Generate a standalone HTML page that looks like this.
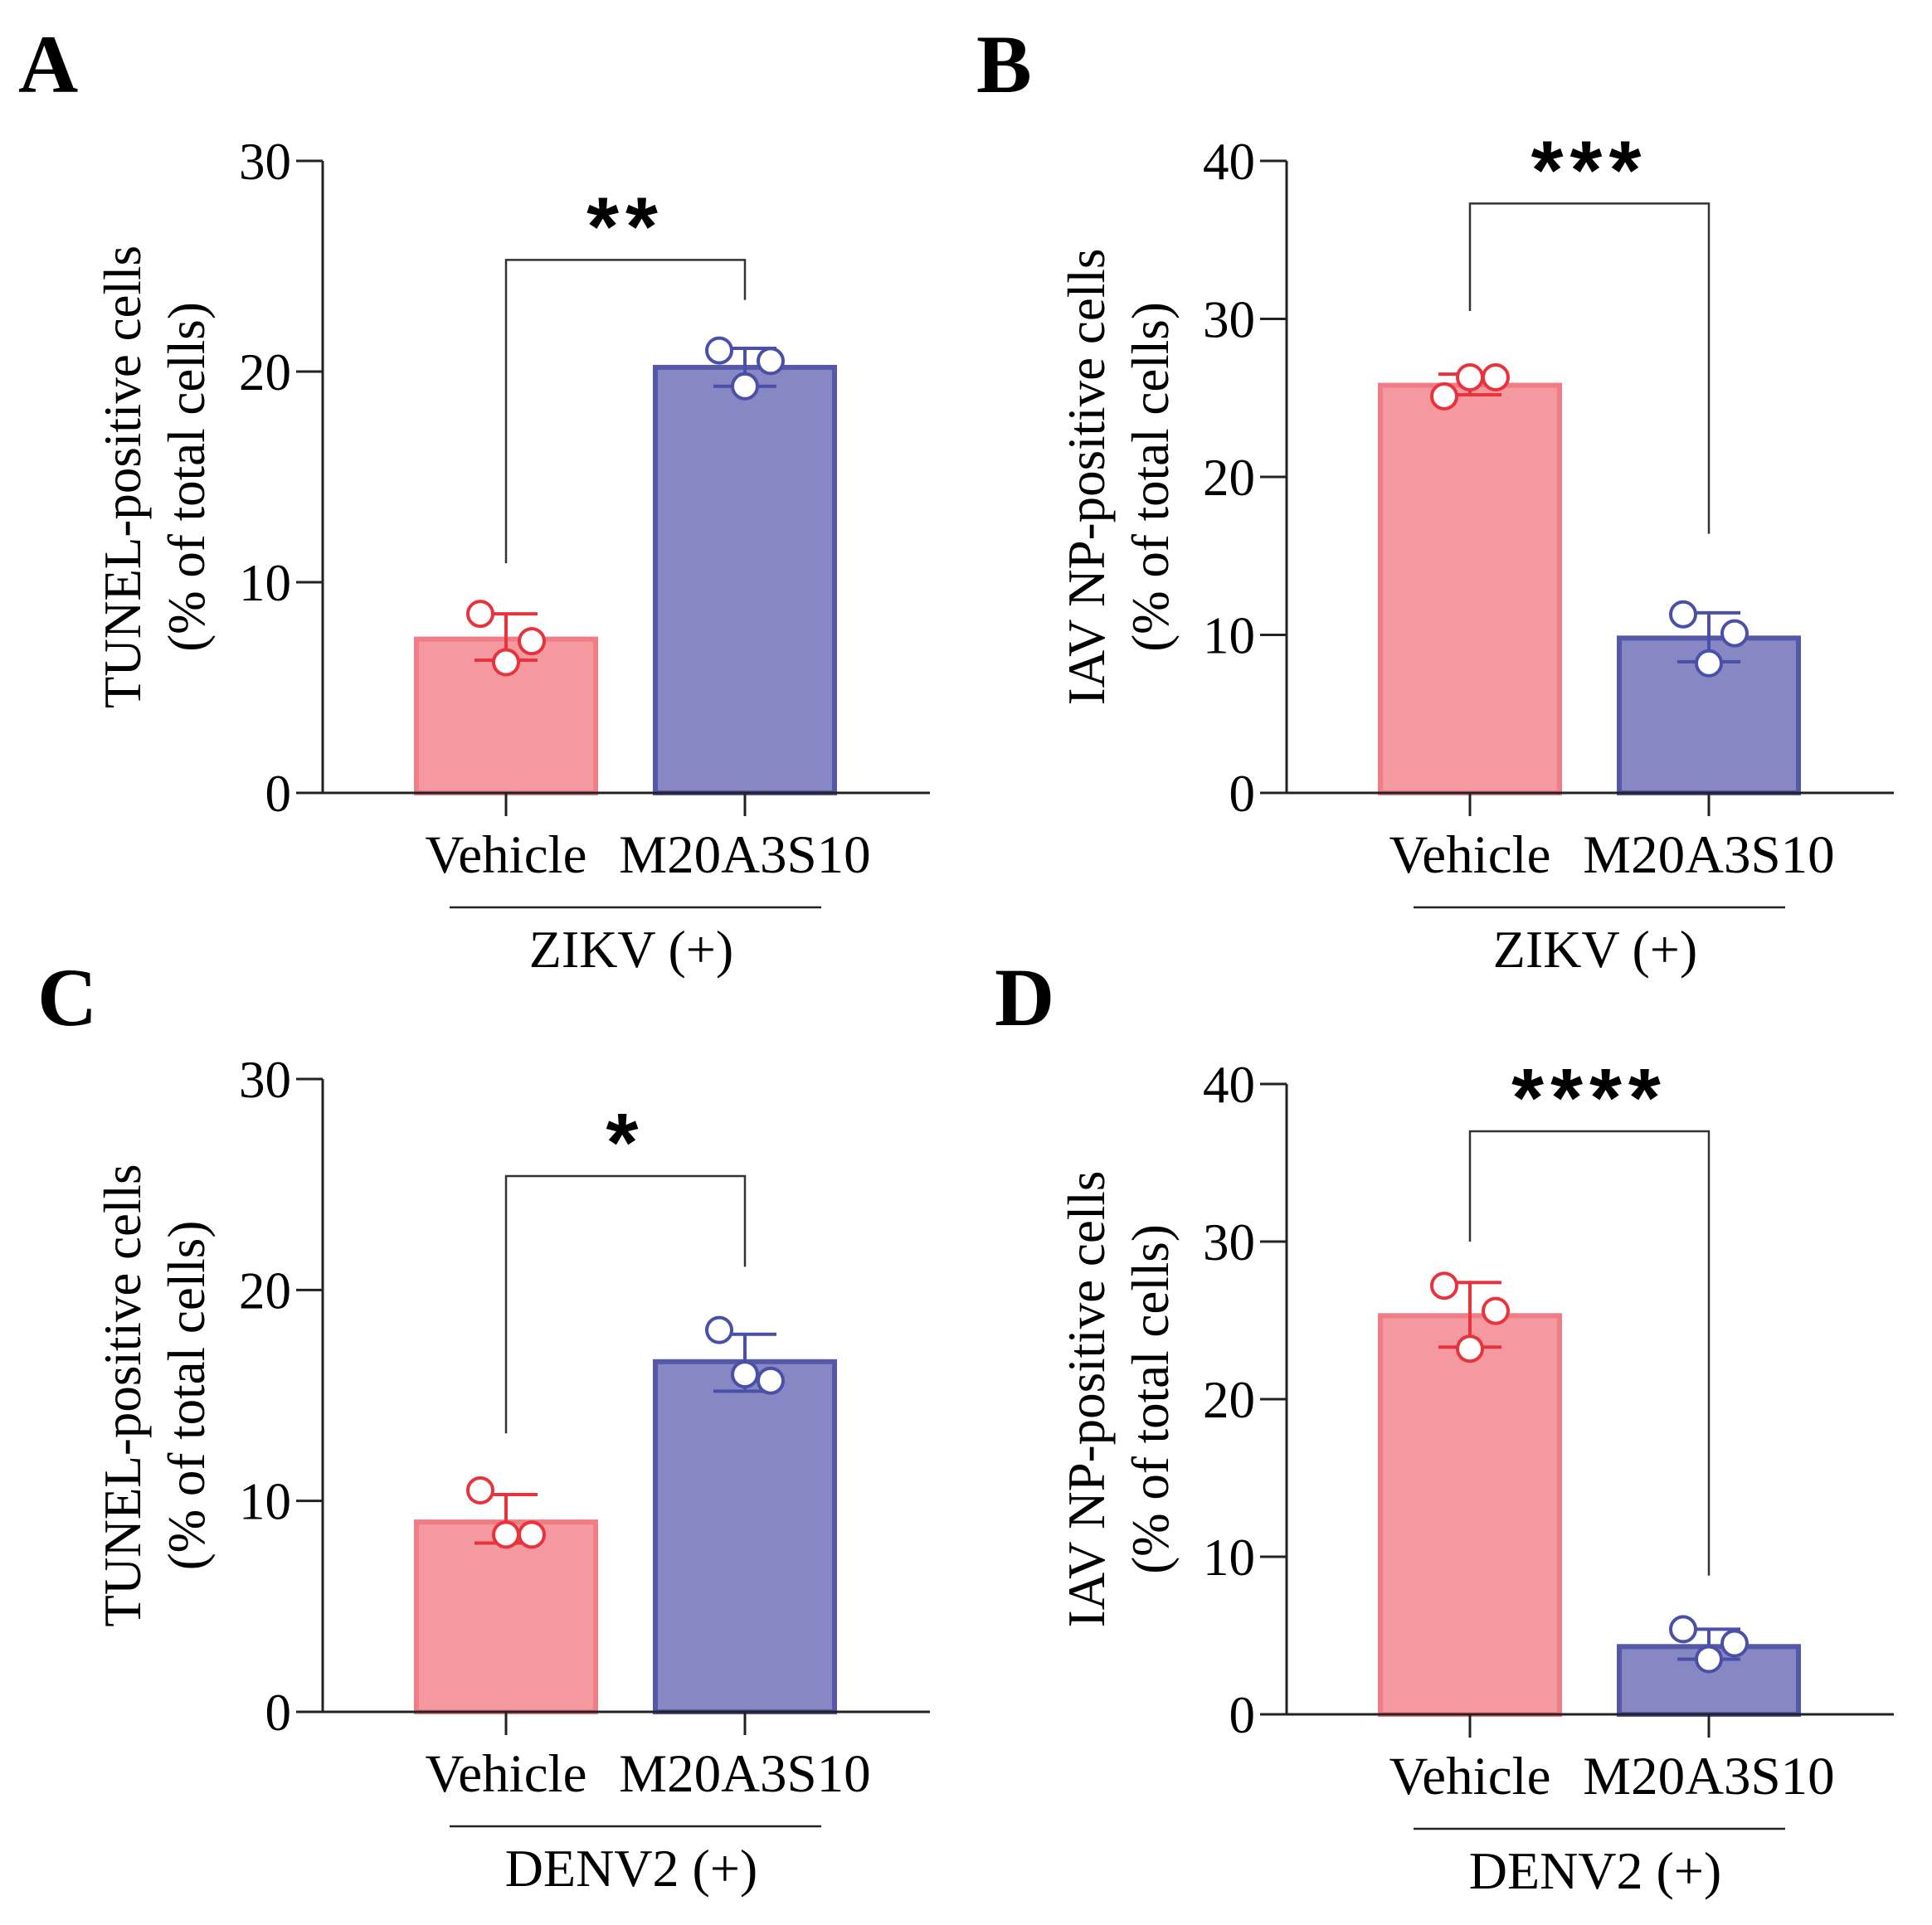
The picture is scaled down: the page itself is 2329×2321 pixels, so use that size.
<!DOCTYPE html>
<html><head><meta charset="utf-8"><style>
html,body{margin:0;padding:0;background:#fff;}
svg{display:block;font-family:"Liberation Serif",serif;}
</style></head><body>
<svg id="fig" width="2329" height="2321" viewBox="0 0 2329 2321" xmlns="http://www.w3.org/2000/svg"></svg>
<script>
// Panel data
const categories = ["Vehicle", "M20A3S10"];
const panelLetters = ["A", "B", "C", "D"];
const yTitles = ["TUNEL-positive cells", "IAV NP-positive cells", "TUNEL-positive cells", "IAV NP-positive cells"];
const groupLabels = ["ZIKV (+)", "ZIKV (+)", "DENV2 (+)", "DENV2 (+)"];
const yMax = [30, 40, 30, 40];
const yTicks = [[0,10,20,30],[0,10,20,30,40],[0,10,20,30],[0,10,20,30,40]];
const barMeans = [[7.3, 20.2],[25.8, 9.8],[9.0, 16.6],[25.3, 4.3]];
const errLow = [[6.3, 19.3],[25.2, 8.3],[8.0, 15.2],[23.3, 3.5]];
const errHigh = [[8.5, 21.1],[26.5, 11.4],[10.3, 17.9],[27.4, 5.4]];
const vehiclePoints = [[8.5, 7.2, 6.2],[25.1, 26.3, 26.3],[10.5, 8.4, 8.4],[27.2, 25.6, 23.2]];
const drugPoints = [[21.0, 20.5, 19.3],[11.3, 10.1, 8.2],[18.1, 15.7, 16.0],[5.4, 4.5, 3.5]];
const bracketTop = [25.3, 37.3, 25.4, 37.0];
const bracketLeft = [10.9, 30.5, 13.2, 30.0];
const bracketRight = [23.4, 16.4, 21.1, 8.8];
const stars = ["**", "***", "*", "****"];

const layout = [
  {ax:389, y0:956, yt:194, lx:22, ly:111},
  {ax:1551, y0:956, yt:194, lx:1177, ly:111},
  {ax:389, y0:2064, yt:1301, lx:45, ly:1236},
  {ax:1551, y0:2067, yt:1307, lx:1199, ly:1236}
];
const NS = "http://www.w3.org/2000/svg";
const svg = document.getElementById("fig");
function mk(tag, attrs, parent, text){
  const e = document.createElementNS(NS, tag);
  for (const k in attrs) e.setAttribute(k, attrs[k]);
  if (text !== undefined) e.textContent = text;
  parent.appendChild(e);
  return e;
}
const fills = ["#f4999f", "#8788c3"];
const strokes = ["#f07c86", "#5558a8"];
const errCol = ["#e8323c", "#4a4fa8"];
const offs = [-31, 31, 0];

panelLetters.forEach((L, p) => {
  const {ax, y0, yt, lx, ly} = layout[p];
  const ys = v => y0 - (v / yMax[p]) * (y0 - yt);
  const xc = i => ax + [221, 509][i];
  const g = mk("g", {}, svg);
  
  

  const lt = mk("text", {x: lx, y: ly, "font-size": 100, "font-weight": "bold"}, g, L);
  
  

  categories.forEach((c, i) => {
    const r = mk("rect", {x: xc(i) - 108, y: ys(barMeans[p][i]), width: 216, height: y0 - ys(barMeans[p][i]), fill: fills[i], stroke: strokes[i], "stroke-width": 6}, g);
    
    
    const eb = mk("path", {d: `M${xc(i)-38} ${ys(errHigh[p][i])}H${xc(i)+38}M${xc(i)} ${ys(errHigh[p][i])}V${ys(errLow[p][i])}M${xc(i)-38} ${ys(errLow[p][i])}H${xc(i)+38}`, stroke: errCol[i], "stroke-width": 4, fill: "none"}, g);
    
    
    const pts = i === 0 ? vehiclePoints[p] : drugPoints[p];
    pts.forEach((v, k) => {
      const c2 = mk("circle", {cx: xc(i) + offs[k], cy: ys(v), r: 15, fill: "#fff", stroke: errCol[i], "stroke-width": 4}, g);
      
      
    });
  });

  const axes = mk("path", {d: `M${ax} ${yt}V${y0}H${ax+732}`, stroke: "#222", "stroke-width": 3, fill: "none"}, g);
  
  
  yTicks[p].forEach(t => {
    const tk = mk("line", {x1: ax - 32, x2: ax, y1: ys(t), y2: ys(t), stroke: "#222", "stroke-width": 3}, g);
    
    
    const tl = mk("text", {x: ax - 38, y: ys(t) + 22, "font-size": 63, "text-anchor": "end"}, g, String(t));
    
    
  });
  categories.forEach((c, i) => {
    const tk = mk("line", {x1: xc(i), x2: xc(i), y1: y0, y2: y0 + 28, stroke: "#222", "stroke-width": 3}, g);
    
    
    const tl = mk("text", {x: xc(i), y: y0 + 96, "font-size": 65, "text-anchor": "middle"}, g, c);
    
    
  });
  const ul = mk("line", {x1: ax + 153, x2: ax + 601, y1: y0 + 138, y2: y0 + 138, stroke: "#222", "stroke-width": 2.5}, g);
  
  
  const gl = mk("text", {x: ax + 372, y: y0 + 210, "font-size": 64, "text-anchor": "middle"}, g, groupLabels[p]);
  
  

  const cy = (y0 + yt) / 2;
  const t1 = mk("text", {x: 0, y: 0, "font-size": 63, "text-anchor": "middle", transform: `translate(${ax - 220},${cy}) rotate(-90)`}, g, yTitles[p]);
  
  
  const t2 = mk("text", {x: 0, y: 0, "font-size": 63, "text-anchor": "middle", transform: `translate(${ax - 143},${cy}) rotate(-90)`}, g, "(% of total cells)");
  
  

  const br = mk("path", {d: `M${xc(0)} ${ys(bracketLeft[p])}V${ys(bracketTop[p])}H${xc(1)}V${ys(bracketRight[p])}`, stroke: "#333", "stroke-width": 2.5, fill: "none"}, g);
  
  
  const st = mk("text", {x: (xc(0) + xc(1)) / 2, y: ys(bracketTop[p]) - 6, "font-size": 100, "font-weight": "bold", "text-anchor": "middle", "letter-spacing": 8, "font-family": "Liberation Sans, sans-serif"}, g, stars[p]);
  
  
});
</script>
</body></html>
